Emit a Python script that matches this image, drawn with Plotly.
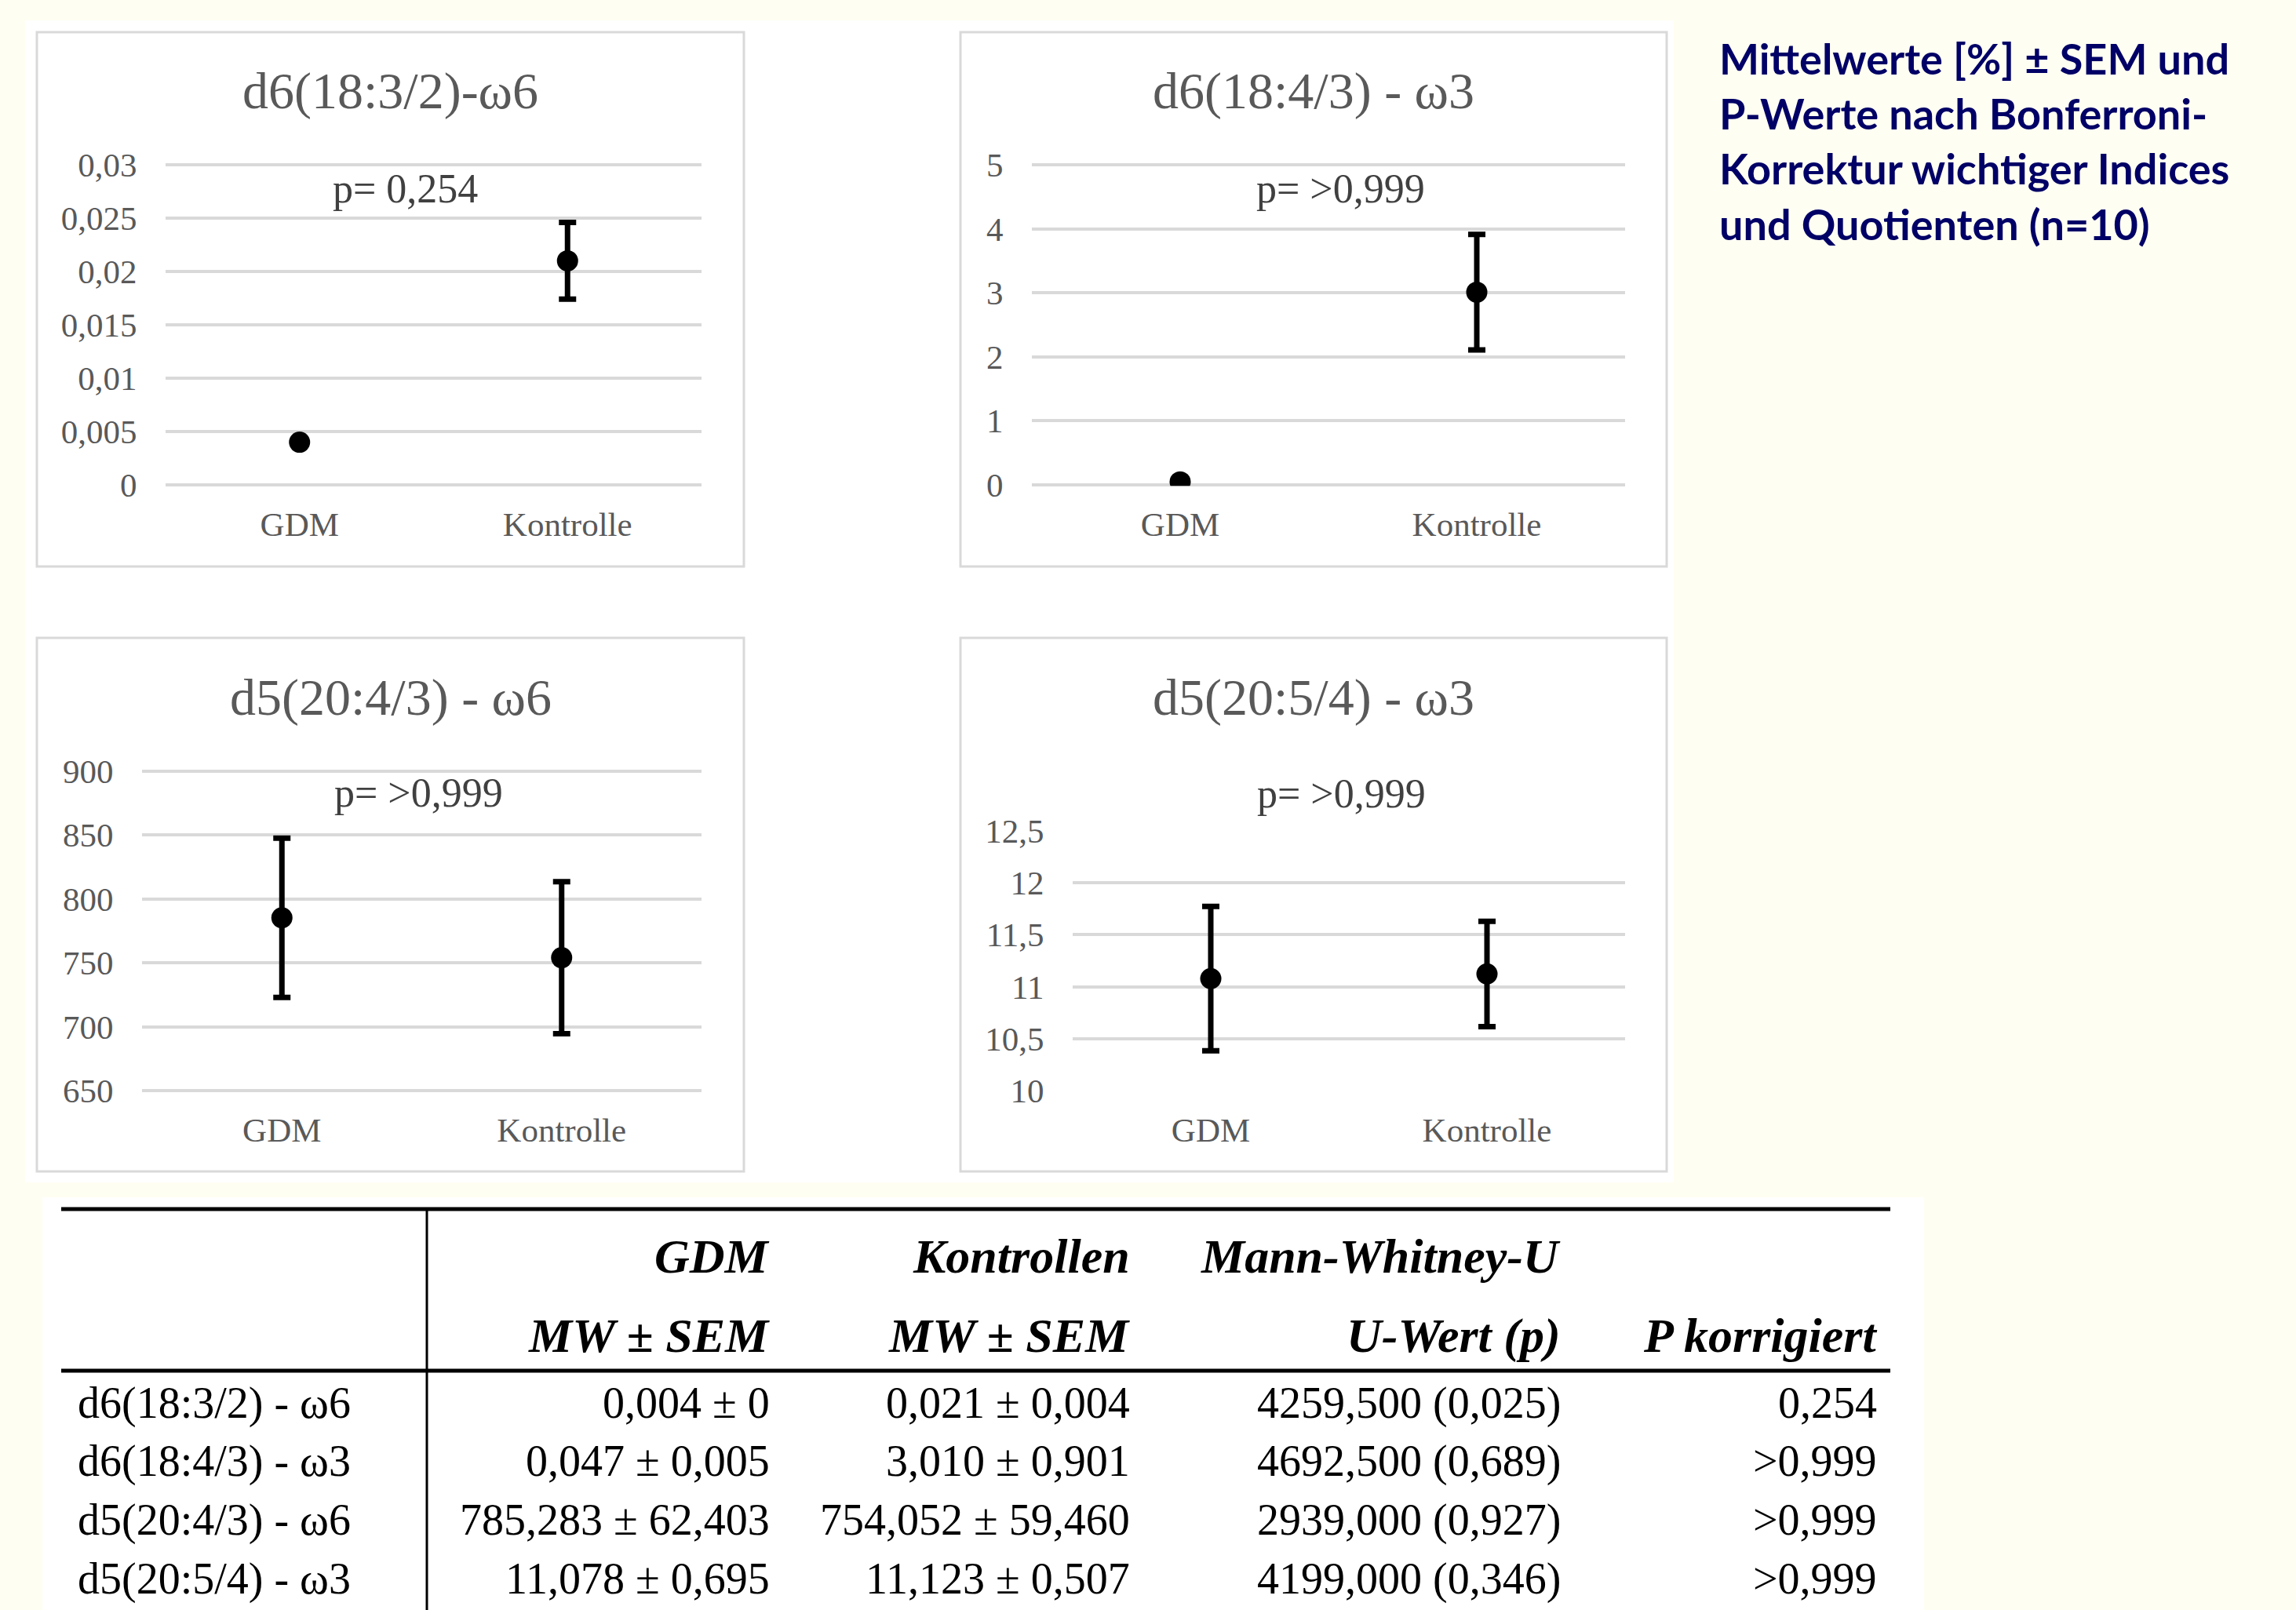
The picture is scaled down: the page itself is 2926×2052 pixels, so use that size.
import plotly.graph_objects as go

# ---------------- data ----------------
CATEGORIES = ["GDM", "Kontrolle"]
TITLES = ["d6(18:3/2)-ω6", "d6(18:4/3) - ω3", "d5(20:4/3) - ω6", "d5(20:5/4) - ω3"]
P_LABELS = ["p= 0,254", "p= >0,999", "p= >0,999", "p= >0,999"]

GDM_MEAN = [0.004, 0.047, 785.283, 11.078]
GDM_SEM = [0.0, 0.005, 62.403, 0.695]
KONTROLLE_MEAN = [0.021, 3.010, 754.052, 11.123]
KONTROLLE_SEM = [0.0036, 0.901, 59.460, 0.507]

Y_TICKVALS = [
    [0, 0.005, 0.01, 0.015, 0.02, 0.025, 0.03],
    [0, 1, 2, 3, 4, 5],
    [650, 700, 750, 800, 850, 900],
    [10, 10.5, 11, 11.5, 12, 12.5],
]
Y_TICKTEXT = [
    ["0", "0,005", "0,01", "0,015", "0,02", "0,025", "0,03"],
    ["0", "1", "2", "3", "4", "5"],
    ["650", "700", "750", "800", "850", "900"],
    ["10", "10,5", "11", "11,5", "12", "12,5"],
]

SIDE_TEXT = ["Mittelwerte [%] ± SEM und", "P-Werte nach Bonferroni-",
             "Korrektur wichtiger Indices", "und Quotienten (n=10)"]

HEADER_1 = ["", "GDM", "Kontrollen", "Mann-Whitney-U", ""]
HEADER_2 = ["", "MW ± SEM", "MW ± SEM", "U-Wert (p)", "P korrigiert"]
TABLE_ROWS = ["d6(18:3/2) - ω6", "d6(18:4/3) - ω3", "d5(20:4/3) - ω6", "d5(20:5/4) - ω3"]
TABLE_GDM = ["0,004 ± 0", "0,047 ± 0,005", "785,283 ± 62,403", "11,078 ± 0,695"]
TABLE_KONTROLLE = ["0,021 ± 0,004", "3,010 ± 0,901", "754,052 ± 59,460", "11,123 ± 0,507"]
TABLE_U = ["4259,500 (0,025)", "4692,500 (0,689)", "2939,000 (0,927)", "4199,000 (0,346)"]
TABLE_P = ["0,254", ">0,999", ">0,999", ">0,999"]

# ---------------- layout geometry (pixels) ----------------
W, H = 2926, 2052
def fx(x): return x / W
def fy(y): return 1 - y / H

CREAM = "#FFFEF2"
GRID = "#D9D9D9"
TXT = "#595959"
SERIF = "Liberation Serif"

PANEL_BOX = [(47, 41, 948, 722), (1224, 41, 2124, 722),
             (47, 813, 948, 1493), (1224, 813, 2124, 1493)]
PLOT_X = [(211, 894), (1315, 2071), (181, 894), (1367, 2071)]
PLOT_Y = [(210, 618), (210, 618), (983, 1390), (1059, 1390)]
TITLE_Y = [116, 116, 889, 889]
P_POS = [(516, 240), (1708, 240), (533, 1010), (1709, 1011)]

fig = go.Figure()
shapes = []
annotations = []

# white backgrounds
shapes.append(dict(type="rect", xref="paper", yref="paper", x0=fx(32), x1=fx(2133),
                   y0=fy(1507), y1=fy(26), fillcolor="white", line=dict(width=0), layer="below"))
shapes.append(dict(type="rect", xref="paper", yref="paper", x0=fx(54), x1=fx(2452),
                   y0=0, y1=fy(1526), fillcolor="white", line=dict(width=0), layer="below"))

for i in range(4):
    n = i + 1
    bx0, by0, bx1, by1 = PANEL_BOX[i]
    shapes.append(dict(type="rect", xref="paper", yref="paper", x0=fx(bx0), x1=fx(bx1),
                       y0=fy(by1), y1=fy(by0), fillcolor="white",
                       line=dict(color=GRID, width=3), layer="below"))
    lo, hi = Y_TICKVALS[i][0], Y_TICKVALS[i][-1]
    span = hi - lo
    pad = 0.003
    t, b = PLOT_Y[i]
    hpx = b - t
    xa = "xaxis" if n == 1 else f"xaxis{n}"
    ya = "yaxis" if n == 1 else f"yaxis{n}"
    fig.add_trace(go.Scatter(
        x=CATEGORIES, y=[GDM_MEAN[i], KONTROLLE_MEAN[i]],
        mode="markers",
        marker=dict(color="black", size=27),
        error_y=dict(type="data", array=[GDM_SEM[i], KONTROLLE_SEM[i]],
                     color="black", thickness=7, width=11),
        xaxis="x" if n == 1 else f"x{n}", yaxis="y" if n == 1 else f"y{n}",
        showlegend=False, hoverinfo="skip"))
    fig.layout[xa] = dict(domain=[fx(PLOT_X[i][0]), fx(PLOT_X[i][1])],
                          anchor="y" if n == 1 else f"y{n}",
                          type="category", range=[-0.5, 1.5],
                          showgrid=False, zeroline=False, showline=False,
                          ticks="outside", ticklen=11, tickcolor="rgba(0,0,0,0)",
                          tickfont=dict(family=SERIF, size=43, color=TXT),
                          automargin=False, fixedrange=True)
    fig.layout[ya] = dict(domain=[fy(b + pad * hpx), fy(t - pad * hpx)],
                          anchor="x" if n == 1 else f"x{n}",
                          range=[lo - pad * span, hi + pad * span],
                          tickmode="array", tickvals=Y_TICKVALS[i], ticktext=Y_TICKTEXT[i],
                          showgrid=True, gridcolor=GRID, gridwidth=3.5,
                          zeroline=False, showline=False,
                          ticks="outside", ticklen=27, tickcolor="rgba(0,0,0,0)",
                          tickfont=dict(family=SERIF, size=43, color=TXT),
                          automargin=False, fixedrange=True)
    annotations.append(dict(xref="paper", yref="paper", x=fx((bx0 + bx1) / 2), y=fy(TITLE_Y[i]),
                            xanchor="center", yanchor="middle", showarrow=False,
                            text=TITLES[i], font=dict(family=SERIF, size=66, color=TXT)))
    annotations.append(dict(xref="paper", yref="paper", x=fx(P_POS[i][0]), y=fy(P_POS[i][1]),
                            xanchor="center", yanchor="middle", showarrow=False,
                            text=P_LABELS[i], font=dict(family=SERIF, size=52, color="#404040")))

# side text
annotations.append(dict(xref="paper", yref="paper", x=fx(2189), y=fy(40),
                        xanchor="left", yanchor="top", showarrow=False, align="left",
                        text="<b>" + "<br>".join(SIDE_TEXT) + "</b>",
                        font=dict(family="Lato", size=54, color="#000066")))

# table
COL_RIGHT = [97, 983, 1442, 1991, 2394]
HEAD_Y = [1601, 1702]
ROW_Y = [1788, 1862, 1937, 2012]
for j, (h1, h2) in enumerate(zip(HEADER_1, HEADER_2)):
    for txt, yy in ((h1, HEAD_Y[0]), (h2, HEAD_Y[1])):
        if txt:
            annotations.append(dict(xref="paper", yref="paper", x=fx(COL_RIGHT[j]), y=fy(yy),
                                    xanchor="right", yanchor="middle", showarrow=False,
                                    text="<b><i>" + txt + "</i></b>",
                                    font=dict(family=SERIF, size=62, color="black")))
columns = [TABLE_ROWS, TABLE_GDM, TABLE_KONTROLLE, TABLE_U, TABLE_P]
for j, col in enumerate(columns):
    for r, txt in enumerate(col):
        annotations.append(dict(xref="paper", yref="paper", x=fx(COL_RIGHT[j]), y=fy(ROW_Y[r]),
                                xanchor="left" if j == 0 else "right", yanchor="middle",
                                showarrow=False, text=txt,
                                font=dict(family=SERIF, size=56, color="black")))

shapes.append(dict(type="line", xref="paper", yref="paper", x0=fx(78), x1=fx(2409),
                   y0=fy(1541), y1=fy(1541), line=dict(color="black", width=5)))
shapes.append(dict(type="line", xref="paper", yref="paper", x0=fx(78), x1=fx(2409),
                   y0=fy(1747), y1=fy(1747), line=dict(color="black", width=5)))
shapes.append(dict(type="line", xref="paper", yref="paper", x0=fx(544), x1=fx(544),
                   y0=fy(1541), y1=0, line=dict(color="black", width=3)))

fig.update_layout(width=W, height=H,
                  margin=dict(l=0, r=0, t=0, b=0, pad=0, autoexpand=False),
                  paper_bgcolor=CREAM, plot_bgcolor="rgba(0,0,0,0)",
                  shapes=shapes, annotations=annotations, showlegend=False)

fig.write_html("out.html", config={"displayModeBar": False, "responsive": False},
               default_width=f"{W}px", default_height=f"{H}px",
               post_script="document.body.style.margin='0px';document.body.style.overflow='hidden';")
